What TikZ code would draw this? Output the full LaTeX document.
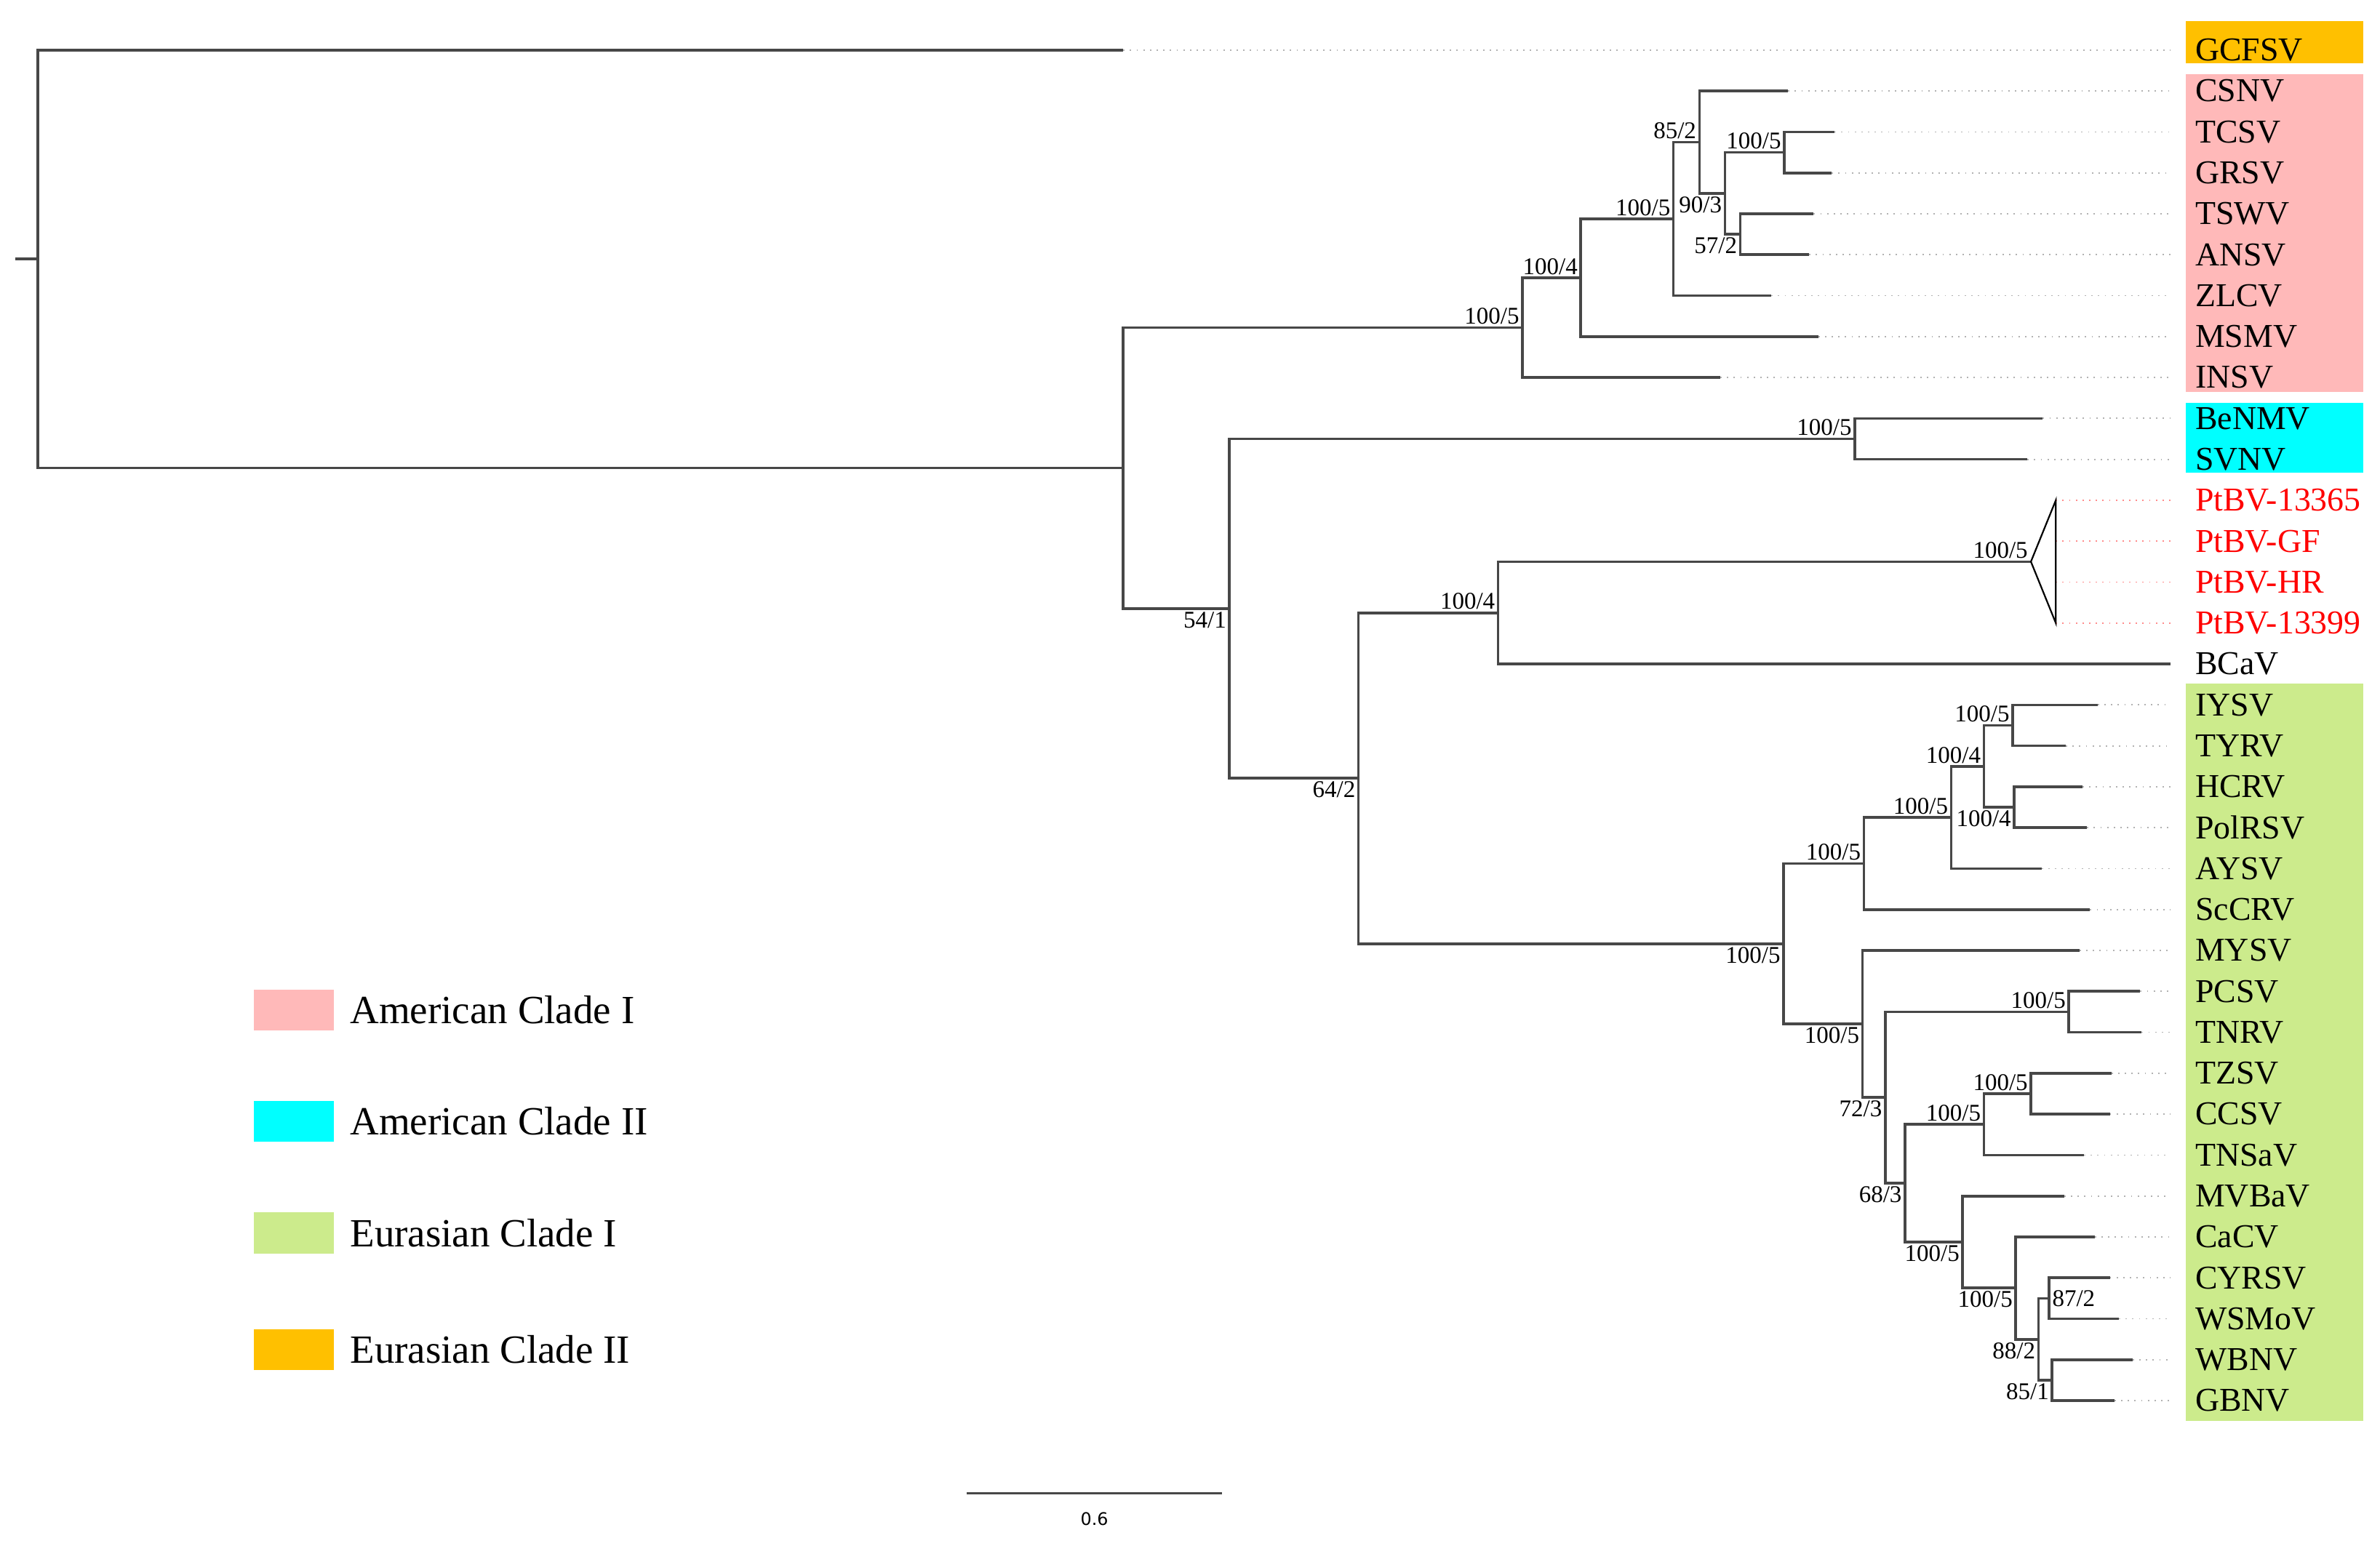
\documentclass[tikz,border=0pt]{standalone}
\usepackage{fontspec}
\setmainfont{Liberation Serif}
\newfontfamily\barfont{DejaVu Sans}
\usetikzlibrary{positioning, calc}

\definecolor{amI}{RGB}{255,185,185}
\definecolor{amII}{RGB}{0,255,255}
\definecolor{eurI}{RGB}{204,235,140}
\definecolor{eurII}{RGB}{255,192,0}
\newcommand{\rowy}[1]{33+26.97*(#1)}

\begin{document}
\begin{tikzpicture}[x=0.02cm, y=-0.02cm,
	branch/.style={draw=black!72, line width=1pt},
	leader/.style={draw=black!30, dotted, line width=0.5pt},
	ptleader/.style={draw=red!45, dotted, line width=0.5pt},
	tip/.style={anchor=west, inner xsep=0.12cm, inner ysep=0pt,
		font=\fontsize{12.5}{14}\selectfont},
	bsup/.style={anchor=south east, inner sep=1pt,
		font=\fontsize{9}{10}\selectfont},
	bsdown/.style={anchor=north east, inner sep=1pt,
		font=\fontsize{9}{10}\selectfont},
	legbox/.style={minimum width=1.06cm, minimum height=0.54cm, inner sep=0pt},
	legtext/.style={inner sep=0pt, font=\fontsize{15}{18}\selectfont}]
	\useasboundingbox (0,0) rectangle (1568,1024);

	% clade shading
	\fill[eurII] (1440,14) rectangle (1557,41.5);
	\fill[amI]   (1440,49) rectangle (1557,258.5);
	\fill[amII]  (1440,265.5) rectangle (1557,311.5);
	\fill[eurI]  (1440,450.5) rectangle (1557,936.5);

	% internal nodes
	\coordinate (rootstub) at (10,{\rowy{5.107}});
	\coordinate (root)     at (25,{\rowy{5.107}});
	\coordinate (ingroup)  at (740,{\rowy{10.213}});
	\coordinate (amIroot)  at (1003,{\rowy{6.781}});
	\coordinate (amIb)     at (1041.4,{\rowy{5.5625}});
	\coordinate (amIc)     at (1102.5,{\rowy{4.125}});
	\coordinate (amId)     at (1119.6,{\rowy{2.25}});
	\coordinate (amIe)     at (1136.4,{\rowy{3.5}});
	\coordinate (tcgr)     at (1175.5,{\rowy{2.5}});
	\coordinate (tsan)     at (1146.5,{\rowy{4.5}});
	\coordinate (rest)     at (810,{\rowy{13.646}});
	\coordinate (amIIroot) at (1222,{\rowy{9.5}});
	\coordinate (eurgroup) at (895,{\rowy{17.793}});
	\coordinate (ptbc)     at (987,{\rowy{13.75}});
	\coordinate (ptapex)   at (1338,{\rowy{12.5}});
	\coordinate (eurIroot) at (1175,{\rowy{21.836}});
	\coordinate (iysub)    at (1228,{\rowy{19.875}});
	\coordinate (iysubb)   at (1285.5,{\rowy{18.75}});
	\coordinate (iysubc)   at (1307,{\rowy{17.5}});
	\coordinate (iyty)     at (1326,{\rowy{16.5}});
	\coordinate (hcpo)     at (1327,{\rowy{18.5}});
	\coordinate (wssub)    at (1227,{\rowy{23.797}});
	\coordinate (pctn)     at (1363,{\rowy{23.5}});
	\coordinate (wssubb)   at (1242,{\rowy{25.594}});
	\coordinate (wssubc)   at (1255,{\rowy{27.688}});
	\coordinate (tzsub)    at (1307,{\rowy{26.25}});
	\coordinate (tzcc)     at (1338,{\rowy{25.5}});
	\coordinate (mvsub)    at (1293,{\rowy{29.125}});
	\coordinate (casub)    at (1328,{\rowy{30.25}});
	\coordinate (cysub)    at (1343,{\rowy{31.5}});
	\coordinate (cyws)     at (1350,{\rowy{30.5}});
	\coordinate (wbgb)     at (1352,{\rowy{32.5}});

	% tips
	\coordinate (gcfsv)     at (740,{\rowy{0}});
	\coordinate (csnv)      at (1178,{\rowy{1}});
	\coordinate (tcsv)      at (1208.7,{\rowy{2}});
	\coordinate (grsv)      at (1206.8,{\rowy{3}});
	\coordinate (tswv)      at (1194.9,{\rowy{4}});
	\coordinate (ansv)      at (1191.9,{\rowy{5}});
	\coordinate (zlcv)      at (1167,{\rowy{6}});
	\coordinate (msmv)      at (1197.9,{\rowy{7}});
	\coordinate (insv)      at (1133.4,{\rowy{8}});
	\coordinate (benmv)     at (1345.8,{\rowy{9}});
	\coordinate (svnv)      at (1335.7,{\rowy{10}});
	\coordinate (ptbva)     at (1354.4,{\rowy{11}});
	\coordinate (ptbvgf)    at (1354.4,{\rowy{12}});
	\coordinate (ptbvhr)    at (1354.4,{\rowy{13}});
	\coordinate (ptbvb)     at (1354.4,{\rowy{14}});
	\coordinate (bcav)      at (1430,{\rowy{15}});
	\coordinate (iysv)      at (1382,{\rowy{16}});
	\coordinate (tyrv)      at (1361,{\rowy{17}});
	\coordinate (hcrv)      at (1372,{\rowy{18}});
	\coordinate (polrsv)    at (1375,{\rowy{19}});
	\coordinate (aysv)      at (1345,{\rowy{20}});
	\coordinate (sccrv)     at (1377,{\rowy{21}});
	\coordinate (mysv)      at (1370,{\rowy{22}});
	\coordinate (pcsv)      at (1410,{\rowy{23}});
	\coordinate (tnrv)      at (1411,{\rowy{24}});
	\coordinate (tzsv)      at (1391,{\rowy{25}});
	\coordinate (ccsv)      at (1390,{\rowy{26}});
	\coordinate (tnsav)     at (1373,{\rowy{27}});
	\coordinate (mvbav)     at (1360,{\rowy{28}});
	\coordinate (cacv)      at (1380,{\rowy{29}});
	\coordinate (cyrsv)     at (1390,{\rowy{30}});
	\coordinate (wsmov)     at (1396,{\rowy{31}});
	\coordinate (wbnv)      at (1405,{\rowy{32}});
	\coordinate (gbnv)      at (1393,{\rowy{33}});

	% tip labels
	\node[tip] (lgcfsv)  at (1440,{\rowy{0}})  {GCFSV};
	\node[tip] (lcsnv)   at (1440,{\rowy{1}})  {CSNV};
	\node[tip] (ltcsv)   at (1440,{\rowy{2}})  {TCSV};
	\node[tip] (lgrsv)   at (1440,{\rowy{3}})  {GRSV};
	\node[tip] (ltswv)   at (1440,{\rowy{4}})  {TSWV};
	\node[tip] (lansv)   at (1440,{\rowy{5}})  {ANSV};
	\node[tip] (lzlcv)   at (1440,{\rowy{6}})  {ZLCV};
	\node[tip] (lmsmv)   at (1440,{\rowy{7}})  {MSMV};
	\node[tip] (linsv)   at (1440,{\rowy{8}})  {INSV};
	\node[tip] (lbenmv)  at (1440,{\rowy{9}})  {BeNMV};
	\node[tip] (lsvnv)   at (1440,{\rowy{10}}) {SVNV};
	\node[tip, red] (lptbva)  at (1440,{\rowy{11}}) {PtBV-13365};
	\node[tip, red] (lptbvgf) at (1440,{\rowy{12}}) {PtBV-GF};
	\node[tip, red] (lptbvhr) at (1440,{\rowy{13}}) {PtBV-HR};
	\node[tip, red] (lptbvb)  at (1440,{\rowy{14}}) {PtBV-13399};
	\node[tip] (lbcav)   at (1440,{\rowy{15}}) {BCaV};
	\node[tip] (liysv)   at (1440,{\rowy{16}}) {IYSV};
	\node[tip] (ltyrv)   at (1440,{\rowy{17}}) {TYRV};
	\node[tip] (lhcrv)   at (1440,{\rowy{18}}) {HCRV};
	\node[tip] (lpolrsv) at (1440,{\rowy{19}}) {PolRSV};
	\node[tip] (laysv)   at (1440,{\rowy{20}}) {AYSV};
	\node[tip] (lsccrv)  at (1440,{\rowy{21}}) {ScCRV};
	\node[tip] (lmysv)   at (1440,{\rowy{22}}) {MYSV};
	\node[tip] (lpcsv)   at (1440,{\rowy{23}}) {PCSV};
	\node[tip] (ltnrv)   at (1440,{\rowy{24}}) {TNRV};
	\node[tip] (ltzsv)   at (1440,{\rowy{25}}) {TZSV};
	\node[tip] (lccsv)   at (1440,{\rowy{26}}) {CCSV};
	\node[tip] (ltnsav)  at (1440,{\rowy{27}}) {TNSaV};
	\node[tip] (lmvbav)  at (1440,{\rowy{28}}) {MVBaV};
	\node[tip] (lcacv)   at (1440,{\rowy{29}}) {CaCV};
	\node[tip] (lcyrsv)  at (1440,{\rowy{30}}) {CYRSV};
	\node[tip] (lwsmov)  at (1440,{\rowy{31}}) {WSMoV};
	\node[tip] (lwbnv)   at (1440,{\rowy{32}}) {WBNV};
	\node[tip] (lgbnv)   at (1440,{\rowy{33}}) {GBNV};

	% dotted leaders
	\draw[leader] (gcfsv)  -- ([xshift=-2mm]lgcfsv.west);
	\draw[leader] (csnv)   -- ([xshift=-2mm]lcsnv.west);
	\draw[leader] (tcsv)   -- ([xshift=-2mm]ltcsv.west);
	\draw[leader] (grsv)   -- ([xshift=-2mm]lgrsv.west);
	\draw[leader] (tswv)   -- ([xshift=-2mm]ltswv.west);
	\draw[leader] (ansv)   -- ([xshift=-2mm]lansv.west);
	\draw[leader] (zlcv)   -- ([xshift=-2mm]lzlcv.west);
	\draw[leader] (msmv)   -- ([xshift=-2mm]lmsmv.west);
	\draw[leader] (insv)   -- ([xshift=-2mm]linsv.west);
	\draw[leader] (benmv)  -- ([xshift=-2mm]lbenmv.west);
	\draw[leader] (svnv)   -- ([xshift=-2mm]lsvnv.west);
	\draw[ptleader] (ptbva)  -- ([xshift=-2mm]lptbva.west);
	\draw[ptleader] (ptbvgf) -- ([xshift=-2mm]lptbvgf.west);
	\draw[ptleader] (ptbvhr) -- ([xshift=-2mm]lptbvhr.west);
	\draw[ptleader] (ptbvb)  -- ([xshift=-2mm]lptbvb.west);
	\draw[leader] (iysv)   -- ([xshift=-2mm]liysv.west);
	\draw[leader] (tyrv)   -- ([xshift=-2mm]ltyrv.west);
	\draw[leader] (hcrv)   -- ([xshift=-2mm]lhcrv.west);
	\draw[leader] (polrsv) -- ([xshift=-2mm]lpolrsv.west);
	\draw[leader] (aysv)   -- ([xshift=-2mm]laysv.west);
	\draw[leader] (sccrv)  -- ([xshift=-2mm]lsccrv.west);
	\draw[leader] (mysv)   -- ([xshift=-2mm]lmysv.west);
	\draw[leader] (pcsv)   -- ([xshift=-2mm]lpcsv.west);
	\draw[leader] (tnrv)   -- ([xshift=-2mm]ltnrv.west);
	\draw[leader] (tzsv)   -- ([xshift=-2mm]ltzsv.west);
	\draw[leader] (ccsv)   -- ([xshift=-2mm]lccsv.west);
	\draw[leader] (tnsav)  -- ([xshift=-2mm]ltnsav.west);
	\draw[leader] (mvbav)  -- ([xshift=-2mm]lmvbav.west);
	\draw[leader] (cacv)   -- ([xshift=-2mm]lcacv.west);
	\draw[leader] (cyrsv)  -- ([xshift=-2mm]lcyrsv.west);
	\draw[leader] (wsmov)  -- ([xshift=-2mm]lwsmov.west);
	\draw[leader] (wbnv)   -- ([xshift=-2mm]lwbnv.west);
	\draw[leader] (gbnv)   -- ([xshift=-2mm]lgbnv.west);

	% branches
	\draw[branch] (rootstub) -- (root);
	\draw[branch] (root) |- (gcfsv);
	\draw[branch] (root) |- (ingroup);
	\draw[branch] (ingroup) |- (amIroot);
	\draw[branch] (ingroup) |- (rest);
	\draw[branch] (amIroot) |- (amIb);
	\draw[branch] (amIroot) |- (insv);
	\draw[branch] (amIb) |- (amIc);
	\draw[branch] (amIb) |- (msmv);
	\draw[branch] (amIc) |- (amId);
	\draw[branch] (amIc) |- (zlcv);
	\draw[branch] (amId) |- (csnv);
	\draw[branch] (amId) |- (amIe);
	\draw[branch] (amIe) |- (tcgr);
	\draw[branch] (amIe) |- (tsan);
	\draw[branch] (tcgr) |- (tcsv);
	\draw[branch] (tcgr) |- (grsv);
	\draw[branch] (tsan) |- (tswv);
	\draw[branch] (tsan) |- (ansv);
	\draw[branch] (rest) |- (amIIroot);
	\draw[branch] (rest) |- (eurgroup);
	\draw[branch] (amIIroot) |- (benmv);
	\draw[branch] (amIIroot) |- (svnv);
	\draw[branch] (eurgroup) |- (ptbc);
	\draw[branch] (eurgroup) |- (eurIroot);
	\draw[branch] (ptbc) |- (ptapex);
	\draw[branch] (ptbc) |- (bcav);
	\draw[black, line width=0.6pt] (ptapex) -- (ptbva) -- (ptbvb) -- cycle;
	\draw[branch] (eurIroot) |- (iysub);
	\draw[branch] (eurIroot) |- (wssub);
	\draw[branch] (iysub) |- (iysubb);
	\draw[branch] (iysub) |- (sccrv);
	\draw[branch] (iysubb) |- (iysubc);
	\draw[branch] (iysubb) |- (aysv);
	\draw[branch] (iysubc) |- (iyty);
	\draw[branch] (iysubc) |- (hcpo);
	\draw[branch] (iyty) |- (iysv);
	\draw[branch] (iyty) |- (tyrv);
	\draw[branch] (hcpo) |- (hcrv);
	\draw[branch] (hcpo) |- (polrsv);
	\draw[branch] (wssub) |- (mysv);
	\draw[branch] (wssub) |- (wssubb);
	\draw[branch] (wssubb) |- (pctn);
	\draw[branch] (wssubb) |- (wssubc);
	\draw[branch] (pctn) |- (pcsv);
	\draw[branch] (pctn) |- (tnrv);
	\draw[branch] (wssubc) |- (tzsub);
	\draw[branch] (wssubc) |- (mvsub);
	\draw[branch] (tzsub) |- (tzcc);
	\draw[branch] (tzsub) |- (tnsav);
	\draw[branch] (tzcc) |- (tzsv);
	\draw[branch] (tzcc) |- (ccsv);
	\draw[branch] (mvsub) |- (mvbav);
	\draw[branch] (mvsub) |- (casub);
	\draw[branch] (casub) |- (cacv);
	\draw[branch] (casub) |- (cysub);
	\draw[branch] (cysub) |- (cyws);
	\draw[branch] (cysub) |- (wbgb);
	\draw[branch] (cyws) |- (cyrsv);
	\draw[branch] (cyws) |- (wsmov);
	\draw[branch] (wbgb) |- (wbnv);
	\draw[branch] (wbgb) |- (gbnv);

	% support values
	\node[bsup]   (bamIroot)  at (amIroot)  {100/5};
	\node[bsup]   (bamIb)     at (amIb)     {100/4};
	\node[bsup]   (bamIc)     at (amIc)     {100/5};
	\node[bsup]   (bamId)     at (amId)     {85/2};
	\node[bsdown] (bamIe)     at (amIe)     {90/3};
	\node[bsup]   (btcgr)     at (tcgr)     {100/5};
	\node[bsdown] (btsan)     at (tsan)     {57/2};
	\node[bsdown] (brest)     at (rest)     {54/1};
	\node[bsup]   (bamIIroot) at (amIIroot) {100/5};
	\node[bsdown] (beurgroup) at (eurgroup) {64/2};
	\node[bsup]   (bptbc)     at (ptbc)     {100/4};
	\node[bsup]   (bptapex)   at (ptapex)   {100/5};
	\node[bsdown] (beurIroot) at (eurIroot) {100/5};
	\node[bsup]   (biysub)    at (iysub)    {100/5};
	\node[bsup]   (biysubb)   at (iysubb)   {100/5};
	\node[bsup]   (biysubc)   at (iysubc)   {100/4};
	\node[bsup]   (biyty)     at (iyty)     {100/5};
	\node[bsdown] (bhcpo)     at (hcpo)     {100/4};
	\node[bsdown] (bwssub)    at (wssub)    {100/5};
	\node[bsup]   (bpctn)     at (pctn)     {100/5};
	\node[bsdown] (bwssubb)   at (wssubb)   {72/3};
	\node[bsdown] (bwssubc)   at (wssubc)   {68/3};
	\node[bsup]   (btzsub)    at (tzsub)    {100/5};
	\node[bsup]   (btzcc)     at (tzcc)     {100/5};
	\node[bsdown] (bmvsub)    at (mvsub)    {100/5};
	\node[bsdown] (bcasub)    at (casub)    {100/5};
	\node[bsdown] (bcysub)    at (cysub)    {88/2};
	\node[bsup, anchor=west] (bcyws) at (cyws) {87/2};
	\node[bsdown] (bwbgb)     at (wbgb)     {85/1};

	% legend
	\node[legbox, fill=amI]   (keyami)   at (193.5,665.5) {};
	\node[legbox, fill=amII]  (keyamii)  at (193.5,739)   {};
	\node[legbox, fill=eurI]  (keyeuri)  at (193.5,812.5) {};
	\node[legbox, fill=eurII] (keyeurii) at (193.5,889.5) {};
	\node[legtext, right=0.2cm of keyami]   (txtami)   {American Clade I};
	\node[legtext, right=0.2cm of keyamii]  (txtamii)  {American Clade II};
	\node[legtext, right=0.2cm of keyeuri]  (txteuri)  {Eurasian Clade I};
	\node[legtext, right=0.2cm of keyeurii] (txteurii) {Eurasian Clade II};

	% scale bar
	\coordinate (bar0) at (637,984);
	\coordinate (bar1) at (805,984);
	\draw[branch] (bar0) -- (bar1);
	\node[font=\barfont\fontsize{6.5}{8}\selectfont] (barlabel) at (721,1001) {0.6};
\end{tikzpicture}
\end{document}
